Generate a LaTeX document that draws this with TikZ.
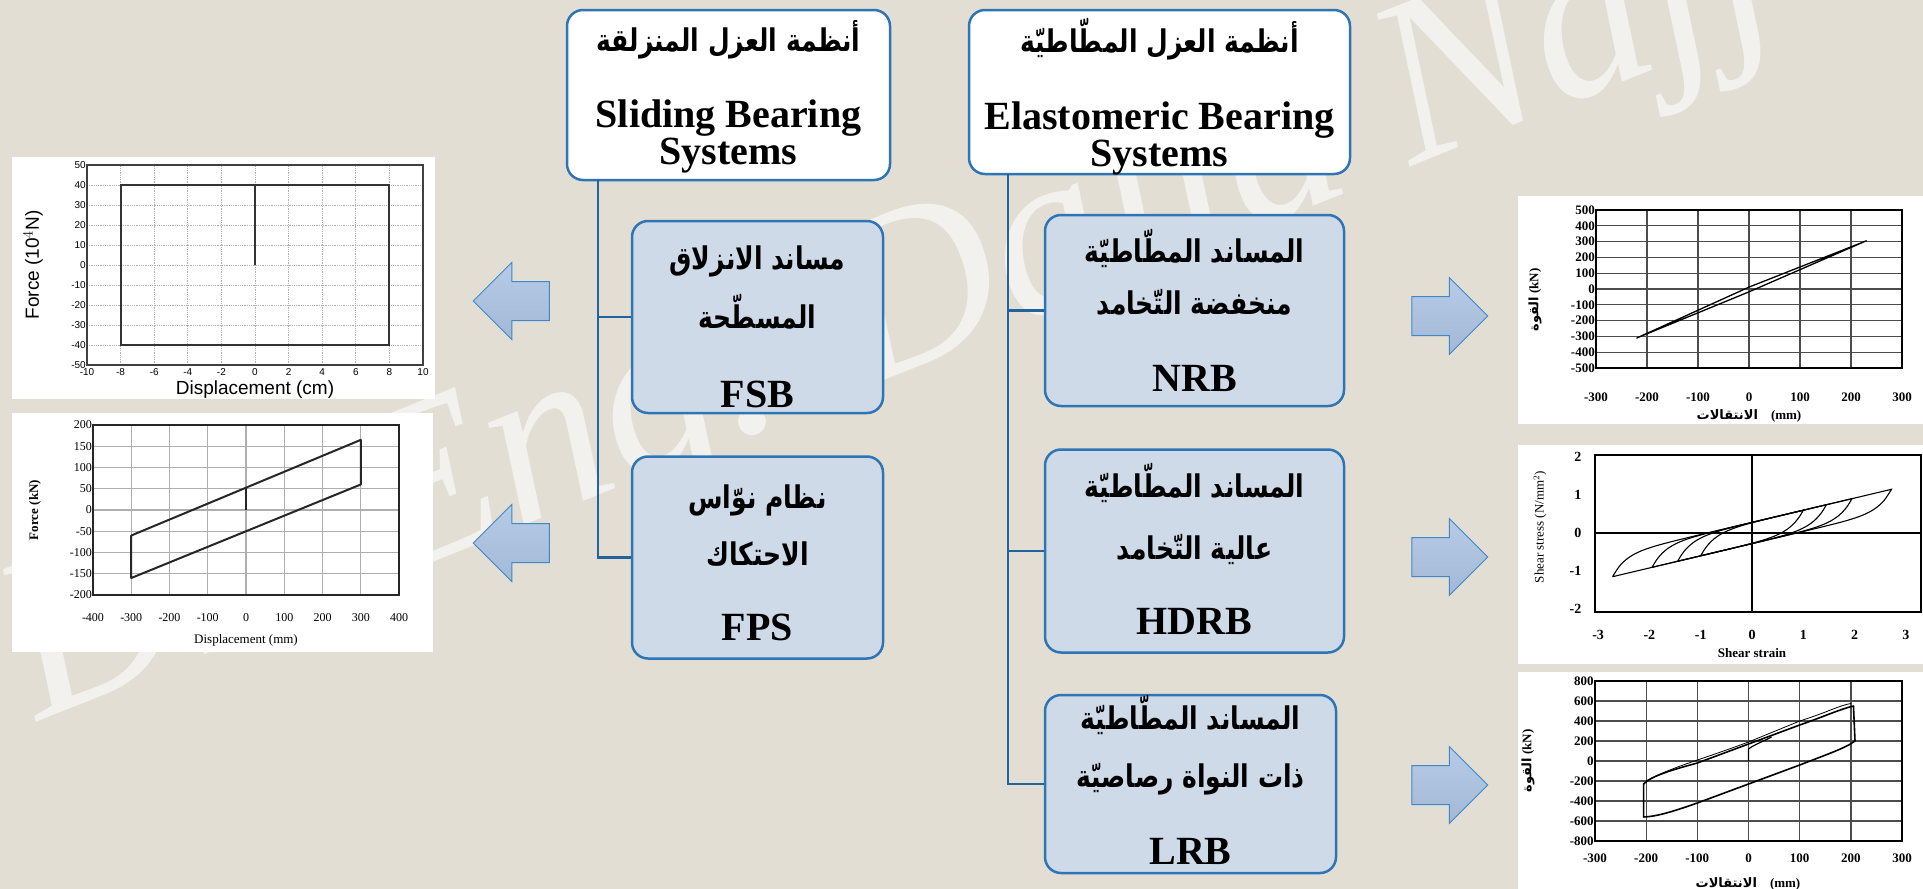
\documentclass[tikz,border=0pt]{standalone}
\usepackage{graphicx}
\usepackage{fontspec}
\setmainfont{Liberation Serif}
\newfontfamily\arabicfont[Script=Arabic]{DejaVu Sans}
\newfontfamily\plotfont{Liberation Sans}
\TeXXeTstate=1
\usetikzlibrary{positioning, shapes.arrows}

\definecolor{pagebg}{RGB}{227,222,211}
\definecolor{boxline}{RGB}{46,117,182}
\definecolor{boxfill}{RGB}{207,218,232}
\definecolor{trunkline}{RGB}{36,98,158}
\definecolor{arrowfill}{RGB}{170,194,226}
\definecolor{arrowline}{RGB}{64,136,200}
\definecolor{markwhite}{RGB}{242,241,238}
\definecolor{plotgrid}{RGB}{175,175,175}

\newcommand{\artxt}[1]{\scalebox{1}[1.25]{\arabicfont\bfseries\fontsize{25}{37}\selectfont\beginR #1\endR}}
\newcommand{\arlbl}[1]{{\arabicfont\beginR #1\endR}}

\begin{document}
\begin{tikzpicture}[x=1pt, y=-1pt,
        headbox/.style={rectangle, draw=boxline, line width=2.5pt, rounded corners=16pt, fill=white, inner sep=0pt},
        typebox/.style={headbox, fill=boxfill},
        boxtext/.style={align=center, inner sep=0pt, font=\fontsize{40}{37}\selectfont\bfseries},
        trunk/.style={draw=trunkline, line width=2.5pt},
        fatarrow/.style={single arrow, draw=arrowline, line width=1pt, top color=arrowfill!85!white, bottom color=arrowfill!95!black, minimum height=76pt, single arrow head extend=19pt, text height=19pt, text depth=19pt, inner sep=0pt},
        ticklbl/.style={font=\fontsize{12}{12}\selectfont, inner sep=1pt},
        node distance=41pt
    ]
        \useasboundingbox (0,0) rectangle (1923,889);
        \fill[pagebg] (0,0) rectangle (1923,889);
        \node[anchor=base west, rotate=22, text=markwhite, inner sep=0pt, font=\fontsize{235}{235}\selectfont\itshape] (mark) at (38,722) {Dr. Eng. Dalia Najj};

        % FSB loop
        \fill[white] (12,157) rectangle (435,399);
        \begin{scope}[shift={(255,265)}, x=16.8pt, y=2pt]
            \foreach \gx in {-8,-6,...,8} \draw[plotgrid, densely dotted, line width=0.8pt] (\gx,-50) -- (\gx,50);
            \foreach \gy in {-40,-30,...,40} \draw[plotgrid, densely dotted, line width=0.8pt] (-10,\gy) -- (10,\gy);
            \draw[line width=1.8pt, black!75] (-10,-50) rectangle (10,50);
            \draw[line width=2pt, black!80] (-8,-40) rectangle (8,40);
            \draw[line width=1.5pt, black!80] (0,0) -- (0,40);
            \foreach \v [count=\i] in {-50,-40,...,50} \node[ticklbl, anchor=east, font=\plotfont] (fsby\i) at (-10,\v) {\v};
            \foreach \v [count=\i] in {-10,-8,...,10} \node[ticklbl, anchor=north, font=\plotfont, yshift=-2pt] (fsbx\i) at (\v,-50) {\v};
        \end{scope}
        \node[font=\plotfont\fontsize{19}{19}\selectfont] (fsbxt) at (255,390) {Displacement (cm)};
        \node[rotate=90, font=\plotfont\fontsize{19}{19}\selectfont] (fsbyt) at (33,265) {Force (10$^4$N)};

        % FPS loop
        \fill[white] (12,413) rectangle (433,652);
        \begin{scope}[shift={(246,510)}, x=0.3825pt, y=0.425pt]
            \foreach \gx in {-300,-200,...,300} \draw[plotgrid, line width=1.2pt] (\gx,-200) -- (\gx,200);
            \foreach \gy in {-150,-100,...,150} \draw[plotgrid, line width=1.2pt] (-400,\gy) -- (400,\gy);
            \draw[line width=2.5pt, black!85] (-400,-200) rectangle (400,200);
            \draw[line width=2pt, black!85, line join=round] (-300,-60) -- (300,165) -- (300,60) -- (-300,-160) -- cycle;
            \draw[line width=2pt, black!85] (0,0) -- (0,52);
            \foreach \v [count=\i] in {-200,-150,...,200} \node[ticklbl, anchor=east] (fpsy\i) at (-400,\v) {\v};
            \foreach \v [count=\i] in {-400,-300,...,400} \node[ticklbl] (fpsx\i) at (\v,-252) {\v};
        \end{scope}
        \node[font=\fontsize{13}{13}\selectfont] (fpsxt) at (246,640) {Displacement (mm)};
        \node[rotate=90, font=\fontsize{13}{13}\selectfont\bfseries] (fpsyt) at (35,510) {Force (kN)};

        % NRB loop
        \fill[white] (1518,196) rectangle (1923,424);
        \begin{scope}[shift={(1749,289)}, x=0.51pt, y=0.158pt]
            \foreach \gx in {-200,-100,...,200} \draw[black!70, line width=1.2pt] (\gx,-500) -- (\gx,500);
            \foreach \gy in {-400,-300,...,400} \draw[black!70, line width=1.2pt] (-300,\gy) -- (300,\gy);
            \draw[line width=2pt] (-300,-500) rectangle (300,500);
            \draw[line width=1.3pt, line join=round] (-220,-310) -- (0,12) -- (230,305) -- (0,-18) -- cycle;
            \foreach \v [count=\i] in {-500,-400,...,500} \node[ticklbl, anchor=east, font=\fontsize{13}{13}\selectfont\bfseries] (nrby\i) at (-300,\v) {\v};
            \foreach \v [count=\i] in {-300,-200,...,300} \node[ticklbl, font=\fontsize{13}{13}\selectfont\bfseries] (nrbx\i) at (\v,-683) {\v};
        \end{scope}
        \node[font=\fontsize{13}{13}\selectfont\bfseries] (nrbxt) at (1749,416) {\arlbl{الانتقالات}\quad(mm)};
        \node[rotate=90, font=\fontsize{13}{13}\selectfont\bfseries] (nrbyt) at (1535,300) {\arlbl{القوة}\ (kN)};

        % HDRB loops
        \fill[white] (1518,445) rectangle (1923,664);
        \begin{scope}[shift={(1752,533)}, x=51.3pt, y=38pt]
            \draw[line width=2pt] (-3.07,-2.08) rectangle (3.3,2.05);
            \draw[line width=1.5pt] (-3.07,0) -- (3.3,0) (0,-2.08) -- (0,2.05);
            \foreach \a in {1.0,1.45,1.95,2.72}
                \draw[line width=1.1pt] plot[domain=-\a:\a, samples=40, smooth] (\x,{0.32*\x+0.28-0.56*exp(-(\x+\a)/0.25)}) -- plot[domain=\a:-\a, samples=40, smooth] (\x,{0.32*\x-0.28+0.56*exp(-(\a-\x)/0.25)});
            \foreach \v [count=\i] in {-2,-1,0,1,2} \node[ticklbl, anchor=east, font=\fontsize{14}{14}\selectfont\bfseries, xshift=-12pt] (hdrby\i) at (-3.07,\v) {\v};
            \foreach \v [count=\i] in {-3,-2,...,3} \node[ticklbl, font=\fontsize{14}{14}\selectfont\bfseries] (hdrbx\i) at (\v,-2.68) {\v};
        \end{scope}
        \node[font=\fontsize{13}{13}\selectfont\bfseries] (hdrbxt) at (1752,653) {Shear strain};
        \node[rotate=90, font=\fontsize{13}{13}\selectfont] (hdrbyt) at (1540,527) {Shear stress (N/mm$^2$)};

        % LRB loop
        \fill[white] (1518,672) rectangle (1923,889);
        \begin{scope}[shift={(1748.5,761)}, x=0.512pt, y=0.1pt]
            \foreach \gx in {-200,-100,...,200} \draw[black!70, line width=1.2pt] (\gx,-800) -- (\gx,800);
            \foreach \gy in {-600,-400,...,600} \draw[black!70, line width=1.2pt] (-300,\gy) -- (300,\gy);
            \draw[line width=2pt] (-300,-800) rectangle (300,800);
            \draw[line width=1.6pt, line join=round] (-205,-230) .. controls (-190,-150) and (-150,-90) .. (-100,-20) -- (100,360) .. controls (150,450) and (180,520) .. (205,550) -- (208,200) .. controls (190,130) and (150,60) .. (100,-40) -- (-100,-420) .. controls (-150,-510) and (-180,-555) .. (-205,-560) -- cycle;
            \draw[line width=0.8pt] (-200,-200) .. controls (-150,-60) and (-100,0) .. (0,190) -- (100,400) .. controls (150,480) and (180,560) .. (200,575);
            \draw[line width=1.2pt] (0,0) -- (0,120) .. controls (10,160) and (30,200) .. (45,240);
            \foreach \v [count=\i] in {-800,-600,...,800} \node[ticklbl, anchor=east, font=\fontsize{13}{13}\selectfont\bfseries] (lrby\i) at (-300,\v) {\v};
            \foreach \v [count=\i] in {-300,-200,...,300} \node[ticklbl, font=\fontsize{13}{13}\selectfont\bfseries] (lrbx\i) at (\v,-970) {\v};
        \end{scope}
        \node[font=\fontsize{13}{13}\selectfont\bfseries] (lrbxt) at (1748,884) {\arlbl{الانتقالات}\quad(mm)};
        \node[rotate=90, font=\fontsize{13}{13}\selectfont\bfseries] (lrbyt) at (1528,761) {\arlbl{القوة}\ (kN)};

        % Arrows
        \node[fatarrow, shape border rotate=180] (fsbarrow) at (521,301) {};
        \node[fatarrow, shape border rotate=180] (fpsarrow) at (521,543) {};
        \node[fatarrow] (nrbarrow) at (1440,316) {};
        \node[fatarrow] (hdrbarrow) at (1440,557) {};
        \node[fatarrow] (lrbarrow) at (1440,785) {};

        % Systems
        \node[headbox, minimum width=323pt, minimum height=170pt] (slide) at (728.5,95) {};
        \node[headbox, minimum width=381pt, minimum height=164pt] (elast) at (1159.5,92) {};
        \node[boxtext] (slidetext) at ([yshift=-2pt]slide.center) {\artxt{أنظمة العزل المنزلقة}\\[39pt]Sliding Bearing\\Systems};
        \node[boxtext] (elasttext) at ([yshift=-5pt]elast.center) {\artxt{أنظمة العزل المطّاطيّة}\\[40pt]Elastomeric Bearing\\Systems};

        % Bearing types
        \node[typebox, minimum width=251pt, minimum height=192pt] (fsb) at (757.5,317) {};
        \node[typebox, minimum width=251pt, minimum height=202pt, below=of fsb] (fps) {};
        \node[typebox, minimum width=299pt, minimum height=191pt] (nrb) at (1194.5,310.5) {};
        \node[typebox, minimum width=299pt, minimum height=203pt, below=of nrb] (hdrb) {};
        \node[typebox, minimum width=291pt, minimum height=178pt, below=40pt of hdrb, xshift=-4pt] (lrb) {};
        \node[boxtext] (fsbtext) at ([yshift=-10pt]fsb.center) {\artxt{مساند الانزلاق}\\[16pt]\artxt{المسطّحة}\\[42pt]FSB};
        \node[boxtext] (fpstext) at ([yshift=-5pt]fps.center) {\artxt{نظام نوّاس}\\[20pt]\artxt{الاحتكاك}\\[38pt]FPS};
        \node[boxtext] (nrbtext) at (nrb.center) {\artxt{المساند المطّاطيّة}\\[15pt]\artxt{منخفضة التّخامد}\\[40pt]NRB};
        \node[boxtext] (hdrbtext) at ([yshift=2pt]hdrb.center) {\artxt{المساند المطّاطيّة}\\[25pt]\artxt{عالية التّخامد}\\[38pt]HDRB};
        \node[boxtext] (lrbtext) at ([yshift=4pt]lrb.center) {\artxt{المساند المطّاطيّة}\\[21pt]\artxt{ذات النواة رصاصيّة}\\[40pt]LRB};

        % Trunks
        \coordinate (ltrunk) at (598,180);
        \coordinate (rtrunk) at (1008,174);
        \draw[trunk] (ltrunk) |- (fsb.west);
        \draw[trunk] (ltrunk) |- (fps.west);
        \draw[trunk] (rtrunk) |- (nrb.west);
        \draw[trunk] (rtrunk) |- (hdrb.west);
        \draw[trunk] (rtrunk) |- (lrb.west);
    \end{tikzpicture}
\end{document}
